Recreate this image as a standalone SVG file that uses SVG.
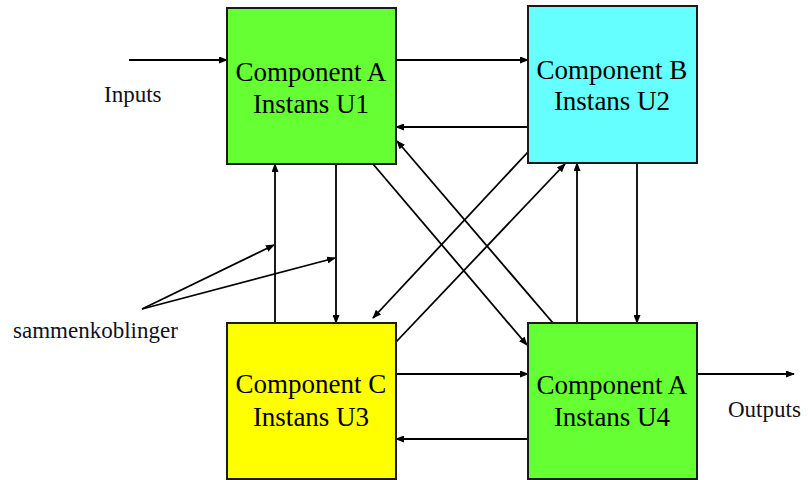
<svg xmlns="http://www.w3.org/2000/svg" width="808" height="480" viewBox="0 0 808 480">
  <style>
    .box { stroke: #1a1a1a; stroke-width: 2; }
    text { font-family: 'Liberation Serif', Tinos, 'Times New Roman', serif; }
    .title { font-size: 27px; fill: #000; text-anchor: middle; }
    .label { font-size: 23px; fill: #101020; }
    .wire { stroke: #000; stroke-width: 1.8; fill: none; marker-end: url(#head); }
  </style>
  <defs>
    <marker id="head" markerUnits="userSpaceOnUse" markerWidth="9" markerHeight="7" refX="8" refY="3.5" orient="auto">
      <path d="M0,0 L9,3.5 L0,7 z" fill="#000"/>
    </marker>
  </defs>
  <rect width="808" height="480" fill="#fff"/>

  <!-- connectors -->
  <g id="connectors">
    <line class="wire" x1="129" y1="60" x2="227" y2="60"/>
    <line class="wire" x1="396" y1="60" x2="528" y2="60"/>
    <line class="wire" x1="528" y1="127" x2="396" y2="127"/>
    <line class="wire" x1="275" y1="323" x2="275" y2="164"/>
    <line class="wire" x1="336" y1="164" x2="336" y2="323"/>
    <line class="wire" x1="373" y1="164" x2="527" y2="345"/>
    <line class="wire" x1="553" y1="323" x2="397" y2="141"/>
    <line class="wire" x1="528" y1="152" x2="373" y2="318"/>
    <line class="wire" x1="396" y1="342" x2="565" y2="164"/>
    <line class="wire" x1="577" y1="323" x2="577" y2="163"/>
    <line class="wire" x1="637" y1="163" x2="637" y2="323"/>
    <line class="wire" x1="396" y1="374" x2="528" y2="374"/>
    <line class="wire" x1="528" y1="439" x2="396" y2="439"/>
    <line class="wire" x1="697" y1="374" x2="794" y2="374"/>
    <!-- pointers from the "sammenkoblinger" note -->
    <line class="wire" x1="142" y1="309" x2="274" y2="245"/>
    <line class="wire" x1="142" y1="309" x2="335" y2="258"/>
  </g>

  <g id="u1">
    <rect class="box" x="227" y="8" width="169" height="156" fill="#66ff33"/>
    <text class="title" x="311" y="81">Component A</text>
    <text class="title" x="311" y="113">Instans U1</text>
  </g>

  <g id="u2">
    <rect class="box" x="528" y="6" width="169" height="157" fill="#66ffff"/>
    <text class="title" x="612" y="79">Component B</text>
    <text class="title" x="612" y="110">Instans U2</text>
  </g>

  <g id="u3">
    <rect class="box" x="227" y="323" width="169" height="156" fill="#ffff00"/>
    <text class="title" x="311" y="393">Component C</text>
    <text class="title" x="311" y="426">Instans U3</text>
  </g>

  <g id="u4">
    <rect class="box" x="528" y="323" width="169" height="156" fill="#66ff33"/>
    <text class="title" x="612" y="394">Component A</text>
    <text class="title" x="612" y="426">Instans U4</text>
  </g>

  <g id="labels">
    <text class="label" x="104" y="102">Inputs</text>
    <text class="label" x="13" y="338">sammenkoblinger</text>
    <text class="label" x="728" y="417">Outputs</text>
  </g>
</svg>
